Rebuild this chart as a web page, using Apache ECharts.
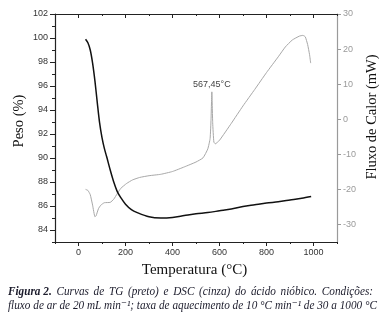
<!DOCTYPE html>
<html>
<head>
<meta charset="utf-8">
<script src="https://cdn.jsdelivr.net/npm/echarts@6/dist/echarts.min.js"></script>
<style>
  html, body { margin: 0; padding: 0; background: #fff; }
  #chart { width: 389px; height: 323px; }
</style>
</head>
<body>
<div id="chart"></div>
<script>
// TG curve (mass %, black) vs temperature
const tgTemp = [30, 40, 50, 60, 70, 80, 90, 100, 110, 120, 135, 150, 165, 180, 200, 225, 250, 300, 350, 400, 450, 500, 550, 600, 650, 700, 750, 800, 850, 900, 950, 990];
const tgMass = [99.9, 99.6, 99.0, 97.9, 96.4, 94.6, 92.9, 91.7, 90.8, 90.1, 89.0, 88.0, 87.2, 86.7, 86.15, 85.7, 85.45, 85.1, 85.0, 85.05, 85.2, 85.35, 85.45, 85.6, 85.75, 85.95, 86.1, 86.25, 86.35, 86.5, 86.65, 86.8];

// DSC curve (heat flow mW, grey) vs temperature
const dscTemp = [30, 40, 50, 60, 70, 75, 85, 95, 110, 135, 150, 165, 180, 205, 230, 260, 300, 350, 400, 450, 500, 530, 550, 560, 564, 567.45, 571, 576, 582, 600, 650, 700, 750, 800, 850, 880, 910, 940, 955, 965, 975, 983, 988];
const dscFlow = [-20.0, -20.3, -21.5, -24.5, -27.8, -27.5, -25.5, -24.5, -23.8, -23.7, -22.8, -21.2, -19.7, -18.3, -17.3, -16.6, -16.1, -15.7, -14.9, -13.6, -12.2, -11.0, -8.5, -5.5, 0, 7.8, -1.0, -6.5, -7.0, -6.0, -1.2, 3.8, 8.5, 13.3, 17.8, 20.6, 22.6, 23.7, 23.9, 23.5, 21.3, 18.5, 16.0];

// exothermic peak annotation
const peakTemp = 567.45;
const peakFlow = 7.8;
const peakText = '567,45°C';

// axis ticks and labels
const tempTicks = [0, 200, 400, 600, 800, 1000];
const tempMinorTicks = [-100, 100, 300, 500, 700, 900, 1100];
const massTicks = [84, 86, 88, 90, 92, 94, 96, 98, 100, 102];
const massMinorTicks = [83, 85, 87, 89, 91, 93, 95, 97, 99, 101];
const flowTicks = [-30, -20, -10, 0, 10, 20, 30];

const xTitle = 'Temperatura (°C)';
const yLeftTitle = 'Peso (%)';
const yRightTitle = 'Fluxo de Calor (mW)';

// caption
const captionBold = 'Figura 2.';
const captionLine1 = 'Curvas de TG (preto) e DSC (cinza) do ácido nióbico. Condições:';
const captionLine2 = 'fluxo de ar de 20 mL min\u207B\u00B9; taxa de aquecimento de 10 °C min\u207B\u00B9 de 30 a 1000 °C';

const pair = (xs, ys) => xs.map((x, i) => [x, ys[i]]);

const axisBlack = '#222';
const axisGrey = '#9a9a9a';
const tickFont = { fontFamily: 'Liberation Sans, Arial, sans-serif', fontSize: 9 };
const capFont = 'italic 12.5px "Liberation Serif", "DejaVu Serif", serif';
const capBoldFont = 'italic bold 12.5px "Liberation Serif", "DejaVu Serif", serif';
const capColor = '#1b1b2b';

// caption block: condensed horizontally; first line justified
const capLeft = 8, capRight1 = 373, capRight2 = 377;
const ctx = document.createElement('canvas').getContext('2d');
ctx.font = capFont;
const line2W = ctx.measureText(captionLine2).width;
const capScale = (capRight2 - capLeft) / line2W;

const words = [{ t: captionBold, f: capBoldFont }].concat(captionLine1.split(' ').map(t => ({ t, f: capFont })));
words.forEach(w => { ctx.font = w.f; w.w = ctx.measureText(w.t).width * capScale; });
const totalW = words.reduce((s, w) => s + w.w, 0);
const gap = (capRight1 - capLeft - totalW) / (words.length - 1);
let cx = capLeft;
const line1Texts = words.map(w => {
  const el = { type: 'text', x: cx, y: 292, scaleX: capScale, style: { text: w.t, font: w.f, fill: capColor, verticalAlign: 'middle' } };
  cx += w.w + gap;
  return el;
});

const xBase = { type: 'value', min: -100, max: 1100, interval: 100, splitLine: { show: false } };
const yMassBase = { type: 'value', min: 83, max: 102, interval: 1, splitLine: { show: false } };

const chart = echarts.init(document.getElementById('chart'), null, { renderer: 'canvas' });

chart.setOption({
  backgroundColor: '#fff',
  animation: false,
  grid: { left: 55, right: 52, top: 14, bottom: 81 },
  xAxis: [
    Object.assign({}, xBase, {
      position: 'bottom',
      axisLine: { show: true, onZero: false, lineStyle: { color: axisBlack, width: 1.2 } },
      axisTick: { show: true, inside: false, length: 4, customValues: tempTicks, lineStyle: { color: axisBlack } },
      axisLabel: Object.assign({ color: '#333', margin: 6, customValues: tempTicks, formatter: v => String(v) }, tickFont)
    }),
    Object.assign({}, xBase, {
      position: 'bottom',
      axisLine: { show: false, onZero: false },
      axisTick: { show: true, inside: false, length: 2, customValues: tempMinorTicks, lineStyle: { color: axisBlack } },
      axisLabel: { show: false }
    }),
    Object.assign({}, xBase, {
      position: 'top',
      axisLine: { show: true, onZero: false, lineStyle: { color: axisBlack, width: 1.2 } },
      axisTick: { show: true, inside: true, length: 4, customValues: tempTicks, lineStyle: { color: axisBlack } },
      axisLabel: { show: false }
    }),
    Object.assign({}, xBase, {
      position: 'top',
      axisLine: { show: false, onZero: false },
      axisTick: { show: true, inside: true, length: 2, customValues: tempMinorTicks, lineStyle: { color: axisBlack } },
      axisLabel: { show: false }
    })
  ],
  yAxis: [
    Object.assign({}, yMassBase, {
      position: 'left',
      axisLine: { show: true, onZero: false, lineStyle: { color: axisBlack, width: 1.2 } },
      axisTick: { show: true, inside: false, length: 5, customValues: massTicks, lineStyle: { color: axisBlack } },
      axisLabel: Object.assign({ color: '#333', margin: 7, customValues: massTicks }, tickFont)
    }),
    Object.assign({}, yMassBase, {
      position: 'left',
      axisLine: { show: false, onZero: false },
      axisTick: { show: true, inside: false, length: 3, customValues: massMinorTicks, lineStyle: { color: axisBlack } },
      axisLabel: { show: false }
    }),
    {
      type: 'value', position: 'right', min: -35, max: 30, interval: 5,
      splitLine: { show: false },
      axisLine: { show: true, onZero: false, lineStyle: { color: axisGrey, width: 1.2 } },
      axisTick: { show: true, inside: false, length: 4, customValues: flowTicks, lineStyle: { color: axisGrey } },
      axisLabel: Object.assign({ color: '#9a9a9a', margin: 6, customValues: flowTicks }, tickFont)
    }
  ],
  series: [
    {
      name: 'TG',
      type: 'line',
      xAxisIndex: 0,
      yAxisIndex: 0,
      data: pair(tgTemp, tgMass),
      showSymbol: false,
      smooth: 0.3,
      lineStyle: { color: '#111', width: 1.5 },
      z: 3
    },
    {
      name: 'DSC',
      type: 'line',
      xAxisIndex: 0,
      yAxisIndex: 2,
      data: pair(dscTemp, dscFlow),
      showSymbol: false,
      smooth: 0.15,
      lineStyle: { color: '#a8a8a8', width: 1 },
      z: 2,
      markPoint: {
        symbol: 'circle',
        symbolSize: 0,
        silent: true,
        label: {
          show: true,
          position: 'top',
          distance: 3,
          formatter: peakText,
          color: '#444',
          fontFamily: 'Liberation Sans, Arial, sans-serif',
          fontSize: 9
        },
        data: [{ coord: [peakTemp, peakFlow] }]
      }
    }
  ],
  graphic: [
    {
      type: 'text', left: 'center', top: 263,
      style: { text: xTitle, font: '15px "Liberation Serif", "DejaVu Serif", serif', fill: '#111' }
    },
    {
      type: 'text', x: 19, y: 121, rotation: Math.PI / 2,
      style: { text: yLeftTitle, font: '14.5px "Liberation Serif", "DejaVu Serif", serif', fill: '#111', align: 'center', verticalAlign: 'middle' }
    },
    {
      type: 'text', x: 372, y: 117, rotation: Math.PI / 2,
      style: { text: yRightTitle, font: '14.5px "Liberation Serif", "DejaVu Serif", serif', fill: '#111', align: 'center', verticalAlign: 'middle' }
    },
    {
      type: 'text', x: capLeft, y: 306, scaleX: capScale,
      style: { text: captionLine2, font: capFont, fill: capColor, verticalAlign: 'middle' }
    }
  ].concat(line1Texts)
});
</script>
</body>
</html>
